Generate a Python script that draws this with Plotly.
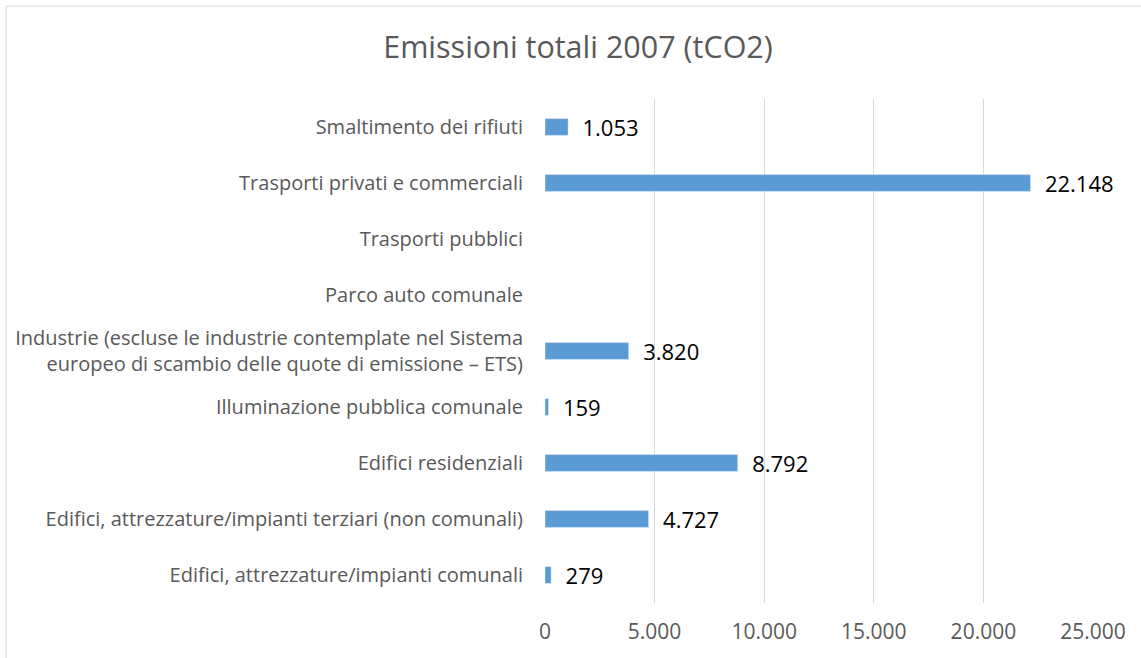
import plotly.graph_objects as go

categories = [
    "Edifici, attrezzature/impianti comunali",
    "Edifici, attrezzature/impianti terziari (non comunali)",
    "Edifici residenziali",
    "Illuminazione pubblica comunale",
    "Industrie (escluse le industrie contemplate nel Sistema<br>europeo di scambio delle quote di emissione – ETS)",
    "Parco auto comunale",
    "Trasporti pubblici",
    "Trasporti privati e commerciali",
    "Smaltimento dei rifiuti",
]
values = [279, 4727, 8792, 159, 3820, None, None, 22148, 1053]
tick_vals = [0, 5000, 10000, 15000, 20000, 25000]

FONT = "Open Sans"
GRAY = "#595959"

L, R, T, B = 545, 48, 99, 55
W, H = 1141, 658
PW, PH = W - L - R, H - T - B

fig = go.Figure(go.Bar(
    y=categories, x=values, orientation="h",
    marker=dict(color="#5B9BD5"),
    texttemplate="  %{x:,}", textposition="outside",
    constraintext="none",
    textfont=dict(family=FONT, size=22, color="#000000"),
    cliponaxis=False, width=0.3,
))

fig.update_layout(
    width=W, height=H,
    separators=",.",
    paper_bgcolor="white", plot_bgcolor="white",
    margin=dict(l=L, r=R, t=T, b=B),
    title=dict(text="Emissioni totali 2007 (tCO2)", x=578 / W, xanchor="center",
               y=1 - 47 / H, yanchor="middle",
               font=dict(family=FONT, size=30.5, color=GRAY)),
    xaxis=dict(range=[0, 25000], tickvals=tick_vals, tickformat=",",
               showgrid=True, gridcolor="#D9D9D9", gridwidth=1,
               zeroline=False, showline=False, ticks="",
               ticklabelstandoff=14,
               tickfont=dict(family=FONT, size=21, color=GRAY)),
    yaxis=dict(showgrid=False, zeroline=False, showline=False, ticks="",
               ticklabelstandoff=21,
               tickfont=dict(family=FONT, size=20, color=GRAY)),
    showlegend=False,
    shapes=[dict(type="rect", xref="paper", yref="paper",
                 x0=-(L - 6) / PW, x1=(W + 20 - L) / PW,
                 y0=-(B + 20) / PH, y1=1 + (T - 6) / PH,
                 line=dict(color="#D9D9D9", width=1))],
)

fig.write_html("out.html", config={"displayModeBar": False},
               post_script="document.body.style.margin='0';")
